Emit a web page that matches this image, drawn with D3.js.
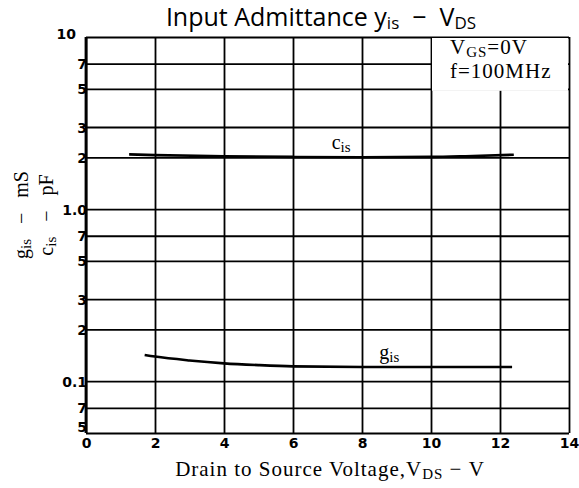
<!DOCTYPE html>
<html>
<head>
<meta charset="utf-8">
<script src="https://cdn.jsdelivr.net/npm/d3@7"></script>
<style>
  body { margin: 0; background: #fff; }
  .grid line { stroke: #000; stroke-width: 1.8; }
  .grid path { display: none; }
  .tick text { font-family: "DejaVu Sans", sans-serif; font-weight: bold; font-size: 14px; fill: #000; }
  .serif { font-family: "Liberation Serif", "DejaVu Serif", serif; fill: #000; }
</style>
</head>
<body>
<div class="chart"></div>
<script>
var xTicks = [0, 2, 4, 6, 8, 10, 12, 14];
var yTicks = [10, 7, 5, 3, 2, 1, 0.7, 0.5, 0.3, 0.2, 0.1, 0.07, 0.05];
var yTickLabels = ['10', '7', '5', '3', '2', '1.0', '7', '5', '3', '2', '0.1', '7', '5'];

// c_is (pF) vs V_DS
var cisVds = [1.25, 2, 4, 6, 8, 10, 11, 12.4];
var cisVals = [2.08, 2.06, 2.03, 2.01, 2.0, 2.01, 2.03, 2.07];

// g_is (mS) vs V_DS
var gisVds = [1.7, 2, 3, 4, 5, 6, 8, 10, 12.35];
var gisVals = [0.142, 0.139, 0.132, 0.127, 0.124, 0.122, 0.121, 0.121, 0.121];

var NB = '\u00a0';

var margin = { top: 37, right: 10, bottom: 55, left: 86 };
var width = 579 - margin.left - margin.right;
var height = 488 - margin.top - margin.bottom;

var root = d3.select('.chart')
  .append('svg')
    .attr('width', 579)
    .attr('height', 488);

var svg = root.append('g')
    .attr('transform', `translate(${margin.left}, ${margin.top})`);

var xScale = d3.scaleLinear()
  .domain([0, 14])
  .range([0, width]);

var yScale = d3.scaleLog()
  .domain([0.05, 10])
  .range([height, 0]);

// horizontal grid + y tick labels
var yAxis = svg.append('g')
  .attr('class', 'grid')
  .call(d3.axisLeft(yScale)
    .tickValues(yTicks)
    .tickSize(-width)
    .tickPadding(2)
    .tickFormat((d, i) => yTickLabels[i]));
yAxis.selectAll('.tick text')
  .attr('dy', (d, i) => i === yTicks.length - 1 ? '-0.1em' : (i === 0 ? '0.1em' : '0.36em'))
  .attr('x', (d, i) => i === 0 ? -10 : 1);

// vertical grid + x tick labels
var xAxis = svg.append('g')
  .attr('class', 'grid')
  .attr('transform', `translate(0, ${height})`)
  .call(d3.axisBottom(xScale)
    .tickValues(xTicks)
    .tickSize(-height)
    .tickPadding(5)
    .tickFormat(d3.format('d')));

// frame left edge heavier
svg.append('line')
  .attr('x1', 0).attr('x2', 0)
  .attr('y1', 0).attr('y2', height)
  .attr('stroke', '#000')
  .attr('stroke-width', 2.8);

// condition box
var boxX = xScale(10) + 1;
svg.append('rect')
  .attr('x', boxX)
  .attr('y', 1)
  .attr('width', width - boxX - 1)
  .attr('height', yScale(5) + 1)
  .attr('fill', '#fff');

var legend = svg.append('text')
  .attr('class', 'serif')
  .attr('font-size', 21)
  .attr('letter-spacing', 1);
legend.append('tspan')
  .attr('x', boxX + 18).attr('y', 17)
  .text('V');
legend.append('tspan')
  .attr('font-size', 15).attr('dy', 3)
  .text('GS');
legend.append('tspan')
  .attr('dy', -3)
  .text('=0V');
legend.append('tspan')
  .attr('x', boxX + 18).attr('y', 41)
  .text('f=100MHz');

var line = d3.line()
  .x(d => xScale(d[0]))
  .y(d => yScale(d[1]))
  .curve(d3.curveMonotoneX);

svg.append('path')
  .datum(cisVds.map((v, i) => [v, cisVals[i]]))
  .attr('d', line)
  .attr('fill', 'none')
  .attr('stroke', '#000')
  .attr('stroke-width', 2.6);

svg.append('path')
  .datum(gisVds.map((v, i) => [v, gisVals[i]]))
  .attr('d', line)
  .attr('fill', 'none')
  .attr('stroke', '#000')
  .attr('stroke-width', 2.6);

// curve labels
function subLabel(g, x, y, main, sub) {
  var t = g.append('text')
    .attr('class', 'serif')
    .attr('x', x).attr('y', y)
    .attr('font-size', 20);
  t.append('tspan').text(main);
  t.append('tspan').attr('font-size', 15).attr('dy', 3).text(sub);
  return t;
}
subLabel(svg, xScale(7.12), yScale(2.22), 'c', 'is');
subLabel(svg, xScale(8.5), yScale(0.134), 'g', 'is');

// title
var title = root.append('text')
  .attr('x', 321)
  .attr('y', 26)
  .attr('text-anchor', 'middle')
  .attr('font-family', '"Open Sans", sans-serif')
  .attr('font-size', 25);
title.append('tspan').text('Input Admittance y');
title.append('tspan').attr('font-size', 17).attr('dy', 3).text('is');
title.append('tspan').attr('dy', -3).text(NB + NB + '\u2212' + NB + NB + 'V');
title.append('tspan').attr('font-size', 17).attr('dy', 3).text('DS');

// x label
var xl = root.append('text')
  .attr('class', 'serif')
  .attr('x', 330)
  .attr('y', 476)
  .attr('text-anchor', 'middle')
  .attr('font-size', 21)
  .attr('letter-spacing', 1);
xl.append('tspan').text('Drain to Source Voltage,V');
xl.append('tspan').attr('font-size', 15).attr('dy', 3).text('DS');
xl.append('tspan').attr('dy', -3).text(NB + '\u2212' + NB + 'V');

// y label, two rotated lines
function yLabel(x, main, unit) {
  var t = root.append('text')
    .attr('class', 'serif')
    .attr('transform', `translate(${x}, 215) rotate(-90)`)
    .attr('text-anchor', 'middle')
    .attr('font-size', 20);
  t.append('tspan').text(main);
  t.append('tspan').attr('font-size', 15).attr('dy', 3).text('is');
  t.append('tspan').attr('dy', -3).text(NB + NB + NB + '\u2212' + NB + NB + NB + unit);
}
yLabel(28, 'g', 'mS');
yLabel(53, 'c', 'pF');
</script>
</body>
</html>
